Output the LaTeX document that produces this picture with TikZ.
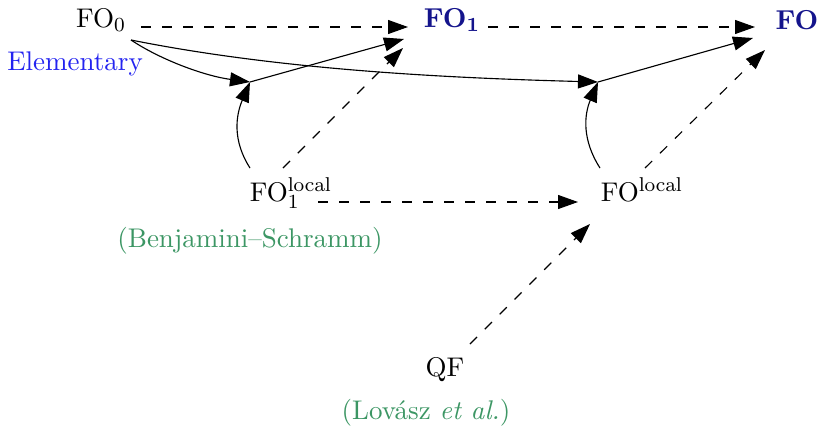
\documentclass[tikz,border=0pt]{standalone}
\usetikzlibrary{arrows.meta}
\definecolor{fonavy}{RGB}{20,20,140}
\definecolor{elemblue}{RGB}{35,35,240}
\definecolor{refgreen}{RGB}{60,150,100}
\begin{document}
\begin{tikzpicture}[x=0.4pt,y=-0.4pt,
  font=\fontsize{10.8}{13}\selectfont,
  lbl/.style={inner sep=0pt},
  arr/.style={-{Triangle[length=8pt,width=5.6pt]}, line width=0.45pt},
  dsh/.style={arr, dash pattern=on 4pt off 4.4pt}]
\useasboundingbox (0,0) rectangle (820,427);
% nodes
\node[lbl] (fo0) at (101,20) {FO$_0$};
\node[lbl, text=fonavy] (fo1) at (452,20) {$\mathbf{FO}_{\mathbf{1}}$};
\node[lbl, text=fonavy] (fo) at (797,20) {$\mathbf{FO}$};
\node[lbl, text=elemblue] (elem) at (75,64) {Elementary};
\node[lbl] (loc1) at (291,193) {FO$_1^{\mathrm{local}}$};
\node[lbl] (loc) at (642,190) {FO$^{\mathrm{local}}$};
\node[lbl, text=refgreen] (bs) at (250,241) {(Benjamini--Schramm)};
\node[lbl] (qf) at (445,370) {QF};
\node[lbl, text=refgreen] (lov) at (426,413) {(Lov\'asz \textit{et al.})};
\coordinate (j1) at (250,82);
\coordinate (j2) at (598,82);
% dashed top row
\draw[dsh] ([shift={(40,7)}]fo0.center) -- ([shift={(-44,7)}]fo1.center);
\draw[dsh] ([shift={(36,7)}]fo1.center) -- ([shift={(-42,7)}]fo.center);
% curves from FO0
\draw[arr] ([shift={(30,20)}]fo0.center) .. controls +(30,20) and +(-45,-6) .. (j1);
\draw[arr] ([shift={(30,20)}]fo0.center) .. controls +(150,30) and +(-150,-4) .. (j2);
% junction to targets
\draw[arr] (j1) -- ([shift={(-48,19)}]fo1.center);
\draw[arr] (j2) -- ([shift={(-44,18)}]fo.center);
% curves from local
\draw[arr] ([shift={(-41,-25)}]loc1.center) .. controls +(-18,-28) and +(-14,33) .. (j1);
\draw[arr] ([shift={(-42,-22)}]loc.center) .. controls +(-18,-28) and +(-14,33) .. (j2);
% dashed diagonals
\draw[dsh] ([shift={(-8,-25)}]loc1.center) -- ([shift={(-49,28)}]fo1.center);
\draw[dsh] ([shift={(27,9)}]loc1.center) -- ([shift={(-64,12)}]loc.center);
\draw[dsh] ([shift={(3,-22)}]loc.center) -- ([shift={(-32,30)}]fo.center);
\draw[dsh] ([shift={(25,-26)}]qf.center) -- ([shift={(-52,34)}]loc.center);
\end{tikzpicture}
\end{document}
